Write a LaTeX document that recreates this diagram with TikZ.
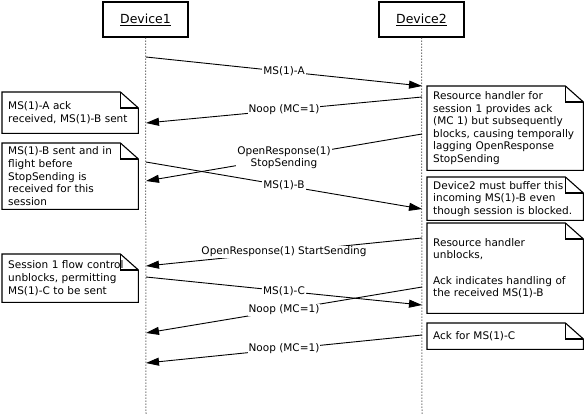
\documentclass[tikz,border=0pt]{standalone}
\usepackage{fontspec}
\setmainfont{DejaVu Sans}
\usetikzlibrary{arrows.meta,calc}
\tikzset{
  lbl/.style={font=\fontsize{10.5}{12.5}\selectfont, fill=white, inner sep=1pt, align=center},
  msg/.style={draw, line width=0.9pt, -{Triangle[length=13pt,width=8pt]}},
  actor/.style={draw, line width=1.1pt, minimum width=85pt, minimum height=35pt, inner sep=0pt, font=\fontsize{12.5}{14}\selectfont},
  life/.style={dotted, line width=1pt, black!80},
  note/.style={font=\fontsize{10.5}{12.6}\selectfont, align=left, inner xsep=6pt, inner ysep=0pt, anchor=north west},
  noteline/.style={draw, line width=1.1pt, line join=miter}
}
\newcommand\drawnote[1]{%
  \draw[noteline] (#1.north west) -- ($(#1.north east)+(-18,0)$) -- ($(#1.north east)+(0,16)$) -- (#1.south east) -- (#1.south west) -- cycle;
  \draw[noteline] ($(#1.north east)+(-18,0)$) -- ($(#1.north east)+(-18,16)$) -- ($(#1.north east)+(0,16)$);}
\begin{document}
\begin{tikzpicture}[x=1pt,y=-1pt]
\useasboundingbox (0,0) rectangle (585,415);
% actors
\node[actor] (d1) at (145.5,19.5) {\underline{Device1}};
\node[actor] (d2) at (421.5,19.5) {\underline{Device2}};
\coordinate (e1) at (146,415);
\coordinate (e2) at (422,415);
\draw[life] (d1.south) -- (e1);
\draw[life] (d2.south) -- (e2);
% notes
\node[note, minimum width=136pt, minimum height=41pt, text width=124pt] (n1) at (2,92) {MS(1)-A ack\\received, MS(1)-B sent};
\node[note, minimum width=136pt, minimum height=66pt, text width=124pt] (n2) at (2,143) {MS(1)-B sent and in\\flight before\\StopSending is\\received for this\\session};
\node[note, minimum width=136pt, minimum height=48pt, text width=124pt] (n3) at (2,254) {Session 1 flow control\\unblocks, permitting\\MS(1)-C to be sent};
\node[note, minimum width=156pt, minimum height=84pt, text width=144pt] (n4) at (427,86) {Resource handler for\\session 1 provides ack\\(MC 1) but subsequently\\blocks, causing temporally\\lagging OpenResponse\\StopSending};
\node[note, minimum width=156pt, minimum height=43pt, text width=144pt] (n5) at (427,177) {Device2 must buffer this\\incoming MS(1)-B even\\though session is blocked.};
\node[note, minimum width=156pt, minimum height=90pt, text width=144pt] (n6) at (427,223) {Resource handler\\unblocks,\\[12.6pt]Ack indicates handling of\\the received MS(1)-B};
\node[note, minimum width=156pt, minimum height=26pt, text width=144pt] (n7) at (427,323) {Ack for MS(1)-C};
\drawnote{n1}\drawnote{n2}\drawnote{n3}\drawnote{n4}\drawnote{n5}\drawnote{n6}\drawnote{n7}
% message endpoints
\coordinate (a1) at (146,57);  \coordinate (a2) at (422,86);
\coordinate (b2) at (422,97);  \coordinate (b1) at (146,123);
\coordinate (c2) at (422,134); \coordinate (c1) at (146,181);
\coordinate (d1s) at (146,162); \coordinate (d2s) at (422,209);
\coordinate (f2) at (422,238); \coordinate (f1) at (146,266);
\coordinate (g1) at (146,277); \coordinate (g2) at (422,305);
\coordinate (h2) at (422,287); \coordinate (h1) at (146,333);
\coordinate (k2) at (422,335); \coordinate (k1) at (146,363);
% lines first
\draw[msg] (a1) -- (a2);
\draw[msg] (b2) -- (b1);
\draw[msg] (c2) -- (c1);
\draw[msg] (d1s) -- (d2s);
\draw[msg] (f2) -- (f1);
\draw[msg] (g1) -- (g2);
\draw[msg] (h2) -- (h1);
\draw[msg] (k2) -- (k1);
% labels
\path (a1) -- node[lbl] (la) {MS(1)-A} (a2);
\path (b2) -- node[lbl] (lb) {Noop (MC=1)} (b1);
\path (c2) -- node[lbl] (lc) {OpenResponse(1)\\StopSending} (c1);
\path (d1s) -- node[lbl] (ld) {MS(1)-B} (d2s);
\path (f2) -- node[lbl] (lf) {OpenResponse(1) StartSending} (f1);
\path (g1) -- node[lbl] (lg) {MS(1)-C} (g2);
\path (h2) -- node[lbl] (lh) {Noop (MC=1)} (h1);
\path (k2) -- node[lbl] (lk) {Noop (MC=1)} (k1);
\end{tikzpicture}
\end{document}
